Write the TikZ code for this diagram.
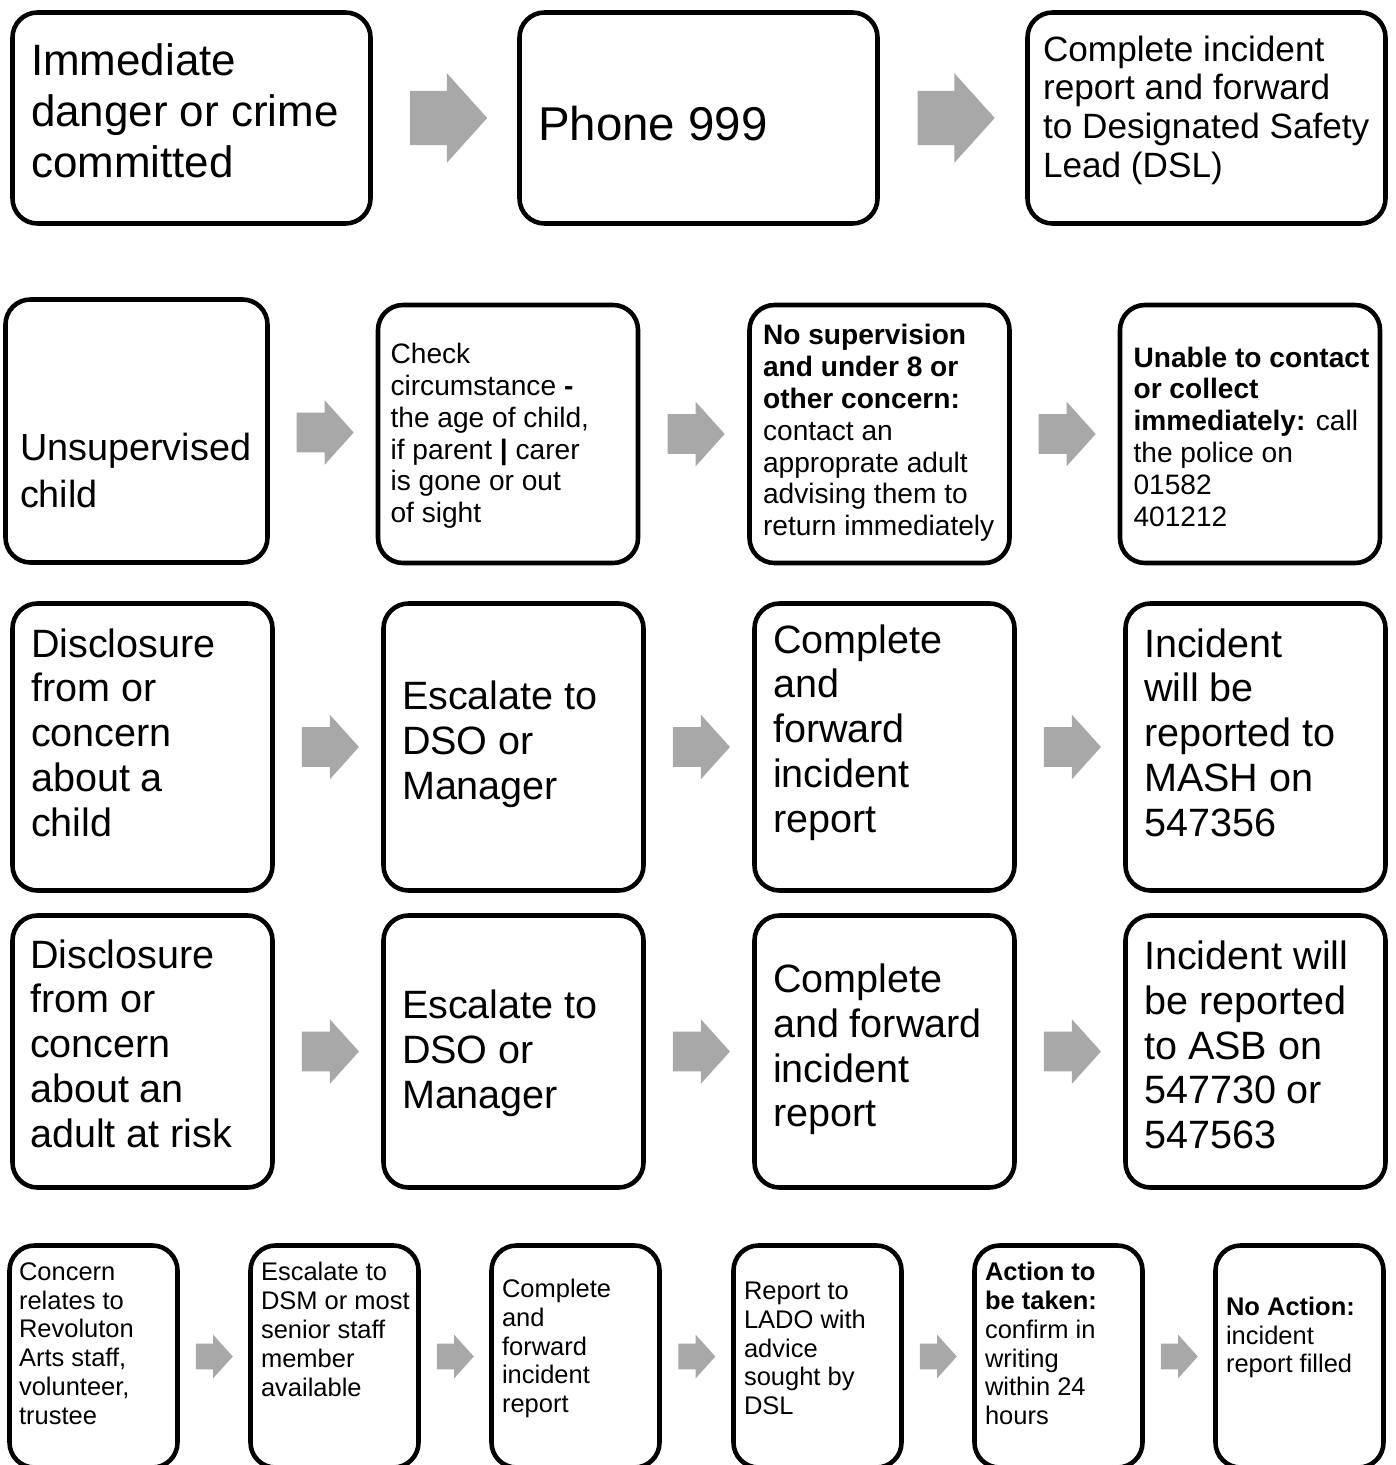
\documentclass[tikz,border=0pt]{standalone}
\usepackage{fontspec}
\setmainfont{Liberation Sans}
\usepackage{tikz}
\usetikzlibrary{shapes.arrows,calc}

\definecolor{arrowgray}{HTML}{A8A8A8}

\tikzset{
    card/.style={draw, line width=2.6pt, rounded corners=0.5cm, inner sep=0pt},
    cardtext/.style={anchor=west, align=left, inner sep=0pt},
    grayarrow/.style={single arrow, fill=arrowgray, draw=none, inner xsep=0pt,
        single arrow tip angle=96},
    bigarrow/.style={grayarrow, inner ysep=0.535cm, minimum height=1.54cm,
        single arrow head extend=0.355cm, xshift=-0.17cm},
    midarrow/.style={grayarrow, inner ysep=0.39cm, minimum height=1.14cm,
        single arrow head extend=0.25cm, xshift=-0.13cm},
    smallarrow/.style={grayarrow, inner ysep=0.25cm, minimum height=0.74cm,
        single arrow head extend=0.18cm, xshift=-0.11cm},
    rowa/.style={card, minimum width=7.16cm, minimum height=4.22cm},
    rowb/.style={card, minimum width=5.2cm, minimum height=5.16cm},
    rowc/.style={card, minimum width=5.2cm, minimum height=5.74cm},
    rowd/.style={card, minimum width=5.2cm, minimum height=5.44cm},
    rowe/.style={card, minimum width=3.36cm, minimum height=4.44cm},
    fa/.style={font=\fontsize{25}{29}\selectfont},
    fphone/.style={font=\fontsize{27}{31}\selectfont},
    fdsl/.style={font=\fontsize{20}{22}\selectfont},
    fchild/.style={font=\fontsize{21.5}{26.6}\selectfont},
    fb/.style={font=\fontsize{16}{18.1}\selectfont},
    fc/.style={font=\fontsize{22.5}{25.5}\selectfont},
    fe/.style={font=\fontsize{14.5}{16.4}\selectfont},
}

\begin{document}
\begin{tikzpicture}
    % page frame
    \useasboundingbox (0,0) rectangle (27.9,-29.3);
    \clip (0,0) rectangle (27.9,-29.3);

    % Row 1: danger
    \node[rowa] (a1) at (3.83,-2.36) {};
    \node[rowa] (a2) at (13.97,-2.36) {};
    \node[rowa] (a3) at (24.13,-2.36) {};
    \node[cardtext, fa] (a1t) at ([shift={(0.41,0.14)}]a1.west) {Immediate\\danger or crime\\committed};
    \node[cardtext, fphone] (a2t) at ([shift={(0.41,-0.12)}]a2.west) {Phone 999};
    \node[cardtext, fdsl] (a3t) at ([shift={(0.35,0.16)}]a3.west) {Complete incident\\report and forward\\to Designated Safety\\Lead (DSL)};
    \foreach \a/\b in {a1/a2,a2/a3}
        \node[bigarrow] (\a\b) at ($(\a.east)!0.5!(\b.west)$) {};

    % Row 2: unsupervised child
    \node[rowb, minimum width=5.24cm, minimum height=5.26cm] (b1) at (2.73,-8.62) {};
    \node[rowb] (b2) at (10.16,-8.68) {};
    \node[rowb] (b3) at (17.59,-8.68) {};
    \node[rowb] (b4) at (25.0,-8.68) {};
    \node[cardtext, fchild] (b1t) at ([shift={(0.33,-0.79)}]b1.west) {Unsupervised\\child};
    \node[cardtext, fb] (b2t) at ([shift={(0.29,-0.04)}]b2.west) {Check\\circumstance \textbf{-}\\the age of child,\\if parent \textbf{|} carer\\is gone or out\\of sight};
    \node[cardtext, fb] (b3t) at ([shift={(0.31,0.02)}]b3.west) {\textbf{No supervision}\\\textbf{and under 8 or}\\\textbf{other concern:}\\contact an\\approprate adult\\advising them to\\return immediately};
    \node[cardtext, fb] (b4t) at ([shift={(0.31,-0.05)}]b4.west) {\textbf{Unable to contact}\\\textbf{or collect}\\\textbf{immediately:} call\\the police on\\01582\\401212};
    \foreach \a/\b in {b1/b2,b2/b3,b3/b4}
        \node[midarrow] (\a\b) at ($(\a.east)!0.5!(\b.west)$) {};

    % Row 3: child disclosure
    \node[rowc] (c1) at (2.85,-14.94) {};
    \node[rowc] (c2) at (10.27,-14.94) {};
    \node[rowc] (c3) at (17.69,-14.94) {};
    \node[rowc] (c4) at (25.11,-14.94) {};
    \node[cardtext, fc] (c1t) at ([shift={(0.41,0.29)}]c1.west) {Disclosure\\from or\\concern\\about a\\child};
    \node[cardtext, fc] (c2t) at ([shift={(0.41,0.06)}]c2.west) {Escalate to\\DSO or\\Manager};
    \node[cardtext, fc] (c3t) at ([shift={(0.41,0.29)}]c3.west) {Complete\\and\\forward\\incident\\report};
    \node[cardtext, fc] (c4t) at ([shift={(0.41,0.29)}]c4.west) {Incident\\will be\\reported to\\MASH on\\547356};
    \foreach \a/\b in {c1/c2,c2/c3,c3/c4}
        \node[midarrow] (\a\b) at ($(\a.east)!0.5!(\b.west)$) {};

    % Row 4: adult at risk
    \node[rowd] (d1) at (2.85,-21.03) {};
    \node[rowd] (d2) at (10.27,-21.03) {};
    \node[rowd] (d3) at (17.69,-21.03) {};
    \node[rowd] (d4) at (25.11,-21.03) {};
    \node[cardtext, fc] (d1t) at ([shift={(0.39,0.16)}]d1.west) {Disclosure\\from or\\concern\\about an\\adult at risk};
    \node[cardtext, fc] (d2t) at ([shift={(0.41,-0.03)}]d2.west) {Escalate to\\DSO or\\Manager};
    \node[cardtext, fc] (d3t) at ([shift={(0.41,0.04)}]d3.west) {Complete\\and forward\\incident\\report};
    \node[cardtext, fc] (d4t) at ([shift={(0.41,0.13)}]d4.west) {Incident will\\be reported\\to ASB on\\547730 or\\547563};
    \foreach \a/\b in {d1/d2,d2/d3,d3/d4}
        \node[midarrow] (\a\b) at ($(\a.east)!0.5!(\b.west)$) {};

    % Row 5: staff concern
    \node[rowe] (e1) at (1.87,-27.13) {};
    \node[rowe] (e2) at (6.69,-27.13) {};
    \node[rowe] (e3) at (11.51,-27.13) {};
    \node[rowe] (e4) at (16.35,-27.13) {};
    \node[rowe] (e5) at (21.17,-27.13) {};
    \node[rowe] (e6) at (25.99,-27.13) {};
    \node[cardtext, fe] (e1t) at ([shift={(0.23,0.26)}]e1.west) {Concern\\relates to\\Revoluton\\Arts staff,\\volunteer,\\trustee};
    \node[cardtext, fe] (e2t) at ([shift={(0.25,0.54)}]e2.west) {Escalate to\\DSM or most\\senior staff\\member\\available};
    \node[cardtext, fe] (e3t) at ([shift={(0.25,0.16)}]e3.west) {Complete\\and\\forward\\incident\\report};
    \node[cardtext, fe] (e4t) at ([shift={(0.25,0.16)}]e4.west) {Report to\\LADO with\\advice\\sought by\\DSL};
    \node[cardtext, fe] (e5t) at ([shift={(0.25,0.26)}]e5.west) {\textbf{Action to}\\\textbf{be taken:}\\confirm in\\writing\\within 24\\hours};
    \node[cardtext, fe] (e6t) at ([shift={(0.25,0.38)}]e6.west) {\textbf{No Action:}\\incident\\report filled};
    \foreach \a/\b in {e1/e2,e2/e3,e3/e4,e4/e5,e5/e6}
        \node[smallarrow] (\a\b) at ($(\a.east)!0.5!(\b.west)$) {};
\end{tikzpicture}
\end{document}
